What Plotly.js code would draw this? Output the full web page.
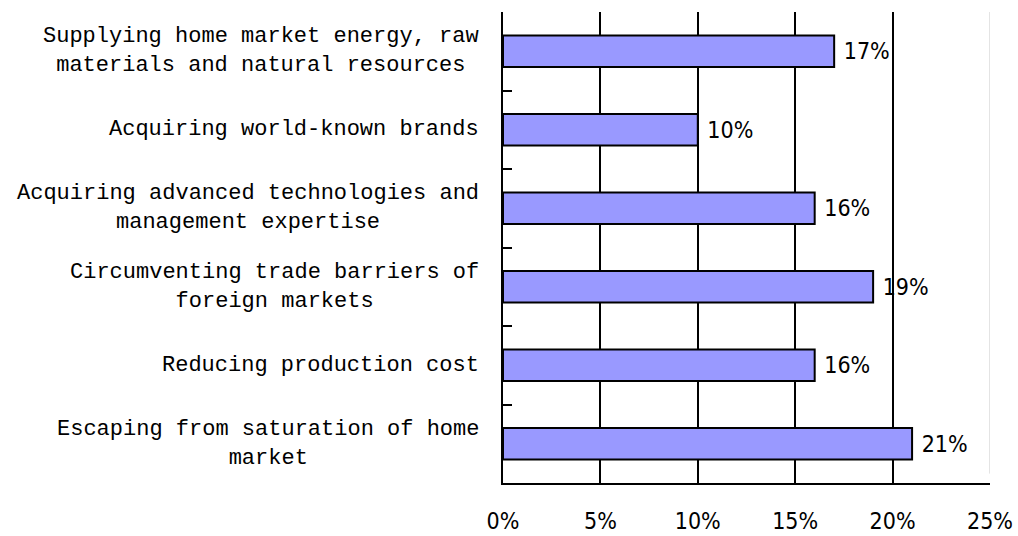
<!DOCTYPE html>
<html>
<head>
<meta charset="utf-8">
<script src="https://cdn.plot.ly/plotly-3.0.1.min.js"></script>
<style>
  html, body { margin: 0; padding: 0; background: #ffffff; }
  #chart { width: 1018px; height: 536px; }
</style>
</head>
<body>
<div id="chart"></div>
<script>
// Motives for outward investment, share of responses (top to bottom)
var categories = [
  "Supplying home market energy, raw<br>materials and natural resources",
  "Acquiring world-known brands",
  "Acquiring advanced technologies and<br>management expertise",
  "Circumventing trade barriers of<br>foreign markets",
  "Reducing production cost",
  "Escaping from saturation of home<br>market"
];
var shares = [17, 10, 16, 19, 16, 21];

var xTickVals = [0, 5, 10, 15, 20, 25];
var xTickText = ["0%", "5%", "10%", "15%", "20%", "25%"];
var xGridVals = [5, 10, 15, 20];

var labelFont = { family: "Liberation Mono, DejaVu Sans Mono, monospace", size: 22, color: "#000000" };
var numberFont = { family: "DejaVu Sans Condensed, Liberation Sans, sans-serif", size: 23, color: "#000000" };

var trace = {
  type: "bar",
  orientation: "h",
  y: categories,
  x: shares,
  marker: { color: "#9999FF", line: { color: "#000000", width: 2 } },
  text: shares.map(function (v) { return " " + v + "%"; }),
  textposition: "outside",
  textfont: numberFont,
  cliponaxis: false,
  hoverinfo: "none"
};

// Category names drawn as centred multi-line blocks to the left of the axis
var annotations = categories.map(function (c) {
  return {
    xref: "paper", yref: "y",
    x: 0, y: c,
    xanchor: "right", yanchor: "middle",
    xshift: -22,
    align: "center",
    text: c,
    showarrow: false,
    font: labelFont
  };
});

var layout = {
  width: 1018,
  height: 536,
  margin: { l: 503, r: 28, t: 12, b: 53 },
  paper_bgcolor: "#ffffff",
  plot_bgcolor: "#ffffff",
  showlegend: false,
  bargap: 0.6,
  xaxis: {
    range: [0, 25],
    tickmode: "array",
    tickvals: xTickVals,
    ticktext: xTickText,
    tickfont: numberFont,
    ticks: "inside",
    ticklen: 9,
    tickwidth: 2,
    tickcolor: "#000000",
    ticklabelstandoff: 16,
    showline: true,
    linecolor: "#000000",
    linewidth: 2,
    showgrid: false,
    minor: {
      tickmode: "array",
      tickvals: xGridVals,
      ticks: "",
      showgrid: true,
      gridcolor: "#000000",
      gridwidth: 2
    },
    zeroline: false,
    fixedrange: true
  },
  yaxis: {
    type: "category",
    autorange: "reversed",
    showticklabels: false,
    ticks: "inside",
    tickson: "boundaries",
    ticklen: 9,
    tickwidth: 2,
    tickcolor: "#000000",
    showline: true,
    linecolor: "#000000",
    linewidth: 2,
    showgrid: false,
    zeroline: false,
    fixedrange: true
  },
  // thin grey frame edge at the right end of the value axis
  shapes: [{
    type: "line",
    xref: "x", yref: "paper",
    x0: 25, x1: 25, y0: 0.02, y1: 1,
    line: { color: "#c8c8c8", width: 1 },
    layer: "below"
  }],
  annotations: annotations
};

Plotly.newPlot("chart", [trace], layout, { displayModeBar: false, staticPlot: true });
</script>
</body>
</html>
